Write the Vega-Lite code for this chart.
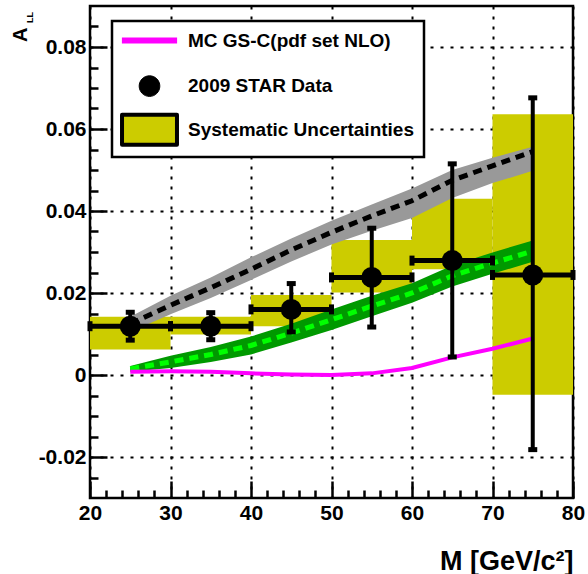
{
  "$schema": "https://vega.github.io/schema/vega-lite/v6.json",
  "width": 483,
  "height": 492,
  "autosize": {"type": "none"},
  "padding": {"left": 90, "top": 6, "right": 15, "bottom": 76},
  "background": "white",
  "config": {
    "view": {"stroke": "black", "strokeWidth": 2.5},
    "axis": {
      "domain": false,
      "gridColor": "black",
      "gridDash": [3, 7],
      "gridWidth": 2,
      "tickColor": "black",
      "tickWidth": 2.5,
      "labelFont": "Liberation Sans",
      "labelFontWeight": "bold",
      "labelColor": "black",
      "labelOverlap": false,
      "labelFlush": false,
      "titleFont": "Liberation Sans",
      "titleFontWeight": "bold",
      "titleColor": "black"
    }
  },
  "resolve": {"axis": {"x": "independent", "y": "independent"}},
  "datasets": {
    "bins": [
      {"m": 25, "mlo": 20, "mhi": 30, "a": 0.0119, "alo": 0.0085, "ahi": 0.0153, "slo": 0.0062, "shi": 0.0142},
      {"m": 35, "mlo": 30, "mhi": 40, "a": 0.0119, "alo": 0.0086, "ahi": 0.0152, "slo": 0.0099, "shi": 0.0142},
      {"m": 45, "mlo": 40, "mhi": 50, "a": 0.0160, "alo": 0.0105, "ahi": 0.0223, "slo": 0.0119, "shi": 0.0195},
      {"m": 55, "mlo": 50, "mhi": 60, "a": 0.0238, "alo": 0.0117, "ahi": 0.0358, "slo": 0.0201, "shi": 0.0329},
      {"m": 65, "mlo": 60, "mhi": 70, "a": 0.0279, "alo": 0.0044, "ahi": 0.0515, "slo": 0.0258, "shi": 0.0430},
      {"m": 75, "mlo": 70, "mhi": 80, "a": 0.0244, "alo": -0.0182, "ahi": 0.0676, "slo": -0.0048, "shi": 0.0636}
    ],
    "theory": [
      {"m": 25, "glo": 0.0105, "gmid": 0.0125, "ghi": 0.0142, "nlo": 0.0008, "nmid": 0.0015, "nhi": 0.0022, "mc": 0.0008},
      {"m": 30, "glo": 0.0148, "gmid": 0.0170, "ghi": 0.0193, "nlo": 0.0017, "nmid": 0.0032, "nhi": 0.0047, "mc": 0.0009},
      {"m": 35, "glo": 0.0188, "gmid": 0.0213, "ghi": 0.0238, "nlo": 0.0032, "nmid": 0.0050, "nhi": 0.0068, "mc": 0.0008},
      {"m": 40, "glo": 0.0232, "gmid": 0.0258, "ghi": 0.0287, "nlo": 0.0050, "nmid": 0.0072, "nhi": 0.0094, "mc": 0.0004},
      {"m": 45, "glo": 0.0277, "gmid": 0.0305, "ghi": 0.0333, "nlo": 0.0079, "nmid": 0.0102, "nhi": 0.0125, "mc": 0.0001},
      {"m": 50, "glo": 0.0318, "gmid": 0.0348, "ghi": 0.0376, "nlo": 0.0110, "nmid": 0.0135, "nhi": 0.0160, "mc": 0.0000},
      {"m": 55, "glo": 0.0352, "gmid": 0.0388, "ghi": 0.0416, "nlo": 0.0143, "nmid": 0.0168, "nhi": 0.0193, "mc": 0.0004},
      {"m": 60, "glo": 0.0383, "gmid": 0.0425, "ghi": 0.0455, "nlo": 0.0176, "nmid": 0.0200, "nhi": 0.0224, "mc": 0.0017},
      {"m": 65, "glo": 0.0432, "gmid": 0.0475, "ghi": 0.0500, "nlo": 0.0216, "nmid": 0.0242, "nhi": 0.0267, "mc": 0.0043},
      {"m": 70, "glo": 0.0468, "gmid": 0.0510, "ghi": 0.0530, "nlo": 0.0247, "nmid": 0.0273, "nhi": 0.0299, "mc": 0.0064},
      {"m": 75, "glo": 0.0498, "gmid": 0.0545, "ghi": 0.0557, "nlo": 0.0276, "nmid": 0.0302, "nhi": 0.0328, "mc": 0.0089}
    ],
    "ytitle": [{"t": "A", "s": "LL"}]
  },
  "layer": [
    {
      "data": {"name": "bins"},
      "mark": {"type": "rect"},
      "encoding": {
        "x": {
          "field": "mlo", "type": "quantitative",
          "scale": {"domain": [20, 80], "nice": false, "zero": false},
          "axis": {
            "orient": "bottom",
            "values": [20, 30, 40, 50, 60, 70, 80],
            "grid": true,
            "tickSize": -17,
            "labelPadding": 21,
            "labelFontSize": 21,
            "title": "M [GeV/c²]",
            "titleFontSize": 27,
            "titleAlign": "right",
            "titleAnchor": "end",
            "titleBaseline": "alphabetic",
            "titleX": 483,
            "titleY": 71
          }
        },
        "x2": {"field": "mhi"},
        "y": {
          "field": "slo", "type": "quantitative",
          "scale": {"domain": [-0.03, 0.09], "nice": false, "zero": false},
          "axis": {
            "orient": "left",
            "values": [-0.02, 0, 0.02, 0.04, 0.06, 0.08],
            "grid": true,
            "labelExpr": "datum.value === 0 ? '0' : (datum.value < 0 ? '-' : '') + format(abs(datum.value), '.2f')",
            "tickSize": -17,
            "labelPadding": 21,
            "labelFontSize": 21,
            "title": null
          }
        },
        "y2": {"field": "shi"},
        "fill": {
          "datum": "Systematic Uncertainties",
          "scale": {
            "domain": ["MC GS-C(pdf set NLO)", "2009 STAR Data", "Systematic Uncertainties"],
            "range": ["#ff00ff", "#000000", "#cccc00"]
          },
          "legend": {
            "orient": "none",
            "legendX": 22,
            "legendY": 15,
            "title": null,
            "fillColor": "white",
            "strokeColor": "black",
            "padding": 10,
            "symbolSize": 576,
            "rowPadding": 4.6,
            "symbolOffset": 18,
            "labelOffset": 29,
            "labelFont": "Liberation Sans",
            "labelFontSize": 19,
            "labelFontWeight": "bold",
            "labelColor": "black",
            "labelLimit": 0,
            "encode": {
              "legend": {"update": {"strokeWidth": {"value": 2.5}}},
              "symbols": {
                "update": {
                  "shape": {"signal": "datum.value === 'MC GS-C(pdf set NLO)' ? 'M0,-1.62M0,1.62M-2.3,-0.25H2.3V0.25H-2.3Z' : datum.value === '2009 STAR Data' ? 'M0,-1.73M0,1.73M-0.86,0A0.86,0.86 0 1,0 0.86,0A0.86,0.86 0 1,0 -0.86,0Z' : 'M-2.29,-1.25H2.29V1.25H-2.29Z'"},
                  "fill": {"signal": "datum.value === 'MC GS-C(pdf set NLO)' ? '#ff00ff' : datum.value === '2009 STAR Data' ? '#000000' : '#cccc00'"},
                  "stroke": {"signal": "datum.value === 'MC GS-C(pdf set NLO)' ? 'transparent' : '#000000'"},
                  "strokeWidth": {"signal": "datum.value === 'MC GS-C(pdf set NLO)' ? 0 : datum.value === '2009 STAR Data' ? 1 : 4"},
                  "strokeJoin": {"value": "round"},
                  "opacity": {"value": 1},
                  "fillOpacity": {"value": 1},
                  "strokeOpacity": {"value": 1}
                }
              }
            }
          }
        }
      }
    },
    {
      "data": {"name": "theory"},
      "mark": {"type": "area", "color": "#999999", "opacity": 1},
      "encoding": {
        "x": {
          "field": "m", "type": "quantitative",
          "axis": {
            "orient": "bottom",
            "values": [22,24,26,28,32,34,36,38,42,44,46,48,52,54,56,58,62,64,66,68,72,74,76,78],
            "grid": false,
            "labels": false,
            "tickSize": -8,
            "title": null
          }
        },
        "y": {
          "field": "glo", "type": "quantitative",
          "axis": {
            "orient": "left",
            "values": [-0.025,-0.015,-0.01,-0.005,0.005,0.01,0.015,0.025,0.03,0.035,0.045,0.05,0.055,0.065,0.07,0.075,0.085],
            "grid": false,
            "labels": false,
            "tickSize": -8,
            "title": null
          }
        },
        "y2": {"field": "ghi"}
      }
    },
    {
      "data": {"name": "theory"},
      "mark": {"type": "line", "color": "black", "strokeWidth": 5, "strokeDash": [9, 6]},
      "encoding": {
        "x": {"field": "m", "type": "quantitative", "axis": null},
        "y": {"field": "gmid", "type": "quantitative", "axis": null}
      }
    },
    {
      "data": {"name": "theory"},
      "mark": {"type": "area", "color": "#009900", "opacity": 1},
      "encoding": {
        "x": {"field": "m", "type": "quantitative", "axis": null},
        "y": {"field": "nlo", "type": "quantitative", "axis": null},
        "y2": {"field": "nhi"}
      }
    },
    {
      "data": {"name": "theory"},
      "mark": {"type": "line", "color": "#00ff00", "strokeWidth": 5, "strokeDash": [9, 6]},
      "encoding": {
        "x": {"field": "m", "type": "quantitative", "axis": null},
        "y": {"field": "nmid", "type": "quantitative", "axis": null}
      }
    },
    {
      "data": {"name": "theory"},
      "mark": {"type": "line", "color": "#ff00ff", "strokeWidth": 4},
      "encoding": {
        "x": {"field": "m", "type": "quantitative", "axis": null},
        "y": {"field": "mc", "type": "quantitative", "axis": null}
      }
    },
    {
      "data": {"name": "bins"},
      "mark": {"type": "rule", "color": "black", "strokeWidth": 5},
      "encoding": {
        "x": {"field": "mlo", "type": "quantitative", "axis": null},
        "x2": {"field": "mhi"},
        "y": {"field": "a", "type": "quantitative", "axis": null}
      }
    },
    {
      "data": {"name": "bins"},
      "mark": {"type": "rule", "color": "black", "strokeWidth": 4},
      "encoding": {
        "x": {"field": "m", "type": "quantitative", "axis": null},
        "y": {"field": "alo", "type": "quantitative", "axis": null},
        "y2": {"field": "ahi"}
      }
    },
    {
      "data": {"name": "bins"},
      "mark": {"type": "tick", "orient": "vertical", "color": "black", "thickness": 5, "size": 10, "opacity": 1},
      "encoding": {
        "x": {"field": "mlo", "type": "quantitative", "axis": null},
        "y": {"field": "a", "type": "quantitative", "axis": null}
      }
    },
    {
      "data": {"name": "bins"},
      "mark": {"type": "tick", "orient": "vertical", "color": "black", "thickness": 5, "size": 10, "opacity": 1},
      "encoding": {
        "x": {"field": "mhi", "type": "quantitative", "axis": null},
        "y": {"field": "a", "type": "quantitative", "axis": null}
      }
    },
    {
      "data": {"name": "bins"},
      "mark": {"type": "tick", "orient": "horizontal", "color": "black", "thickness": 5, "size": 9, "opacity": 1},
      "encoding": {
        "x": {"field": "m", "type": "quantitative", "axis": null},
        "y": {"field": "alo", "type": "quantitative", "axis": null}
      }
    },
    {
      "data": {"name": "bins"},
      "mark": {"type": "tick", "orient": "horizontal", "color": "black", "thickness": 5, "size": 9, "opacity": 1},
      "encoding": {
        "x": {"field": "m", "type": "quantitative", "axis": null},
        "y": {"field": "ahi", "type": "quantitative", "axis": null}
      }
    },
    {
      "data": {"name": "bins"},
      "mark": {"type": "circle", "size": 441, "opacity": 1},
      "encoding": {
        "x": {"field": "m", "type": "quantitative", "axis": null},
        "y": {"field": "a", "type": "quantitative", "axis": null},
        "fill": {"datum": "2009 STAR Data"}
      }
    },
    {
      "data": {"name": "ytitle"},
      "mark": {"type": "text", "angle": 270, "align": "left", "baseline": "alphabetic", "font": "Liberation Sans", "fontWeight": "bold", "fontSize": 20, "color": "black", "dx": -36, "dy": -63},
      "encoding": {
        "x": {"datum": 20, "axis": null},
        "y": {"datum": 0.09, "axis": null},
        "text": {"field": "t"}
      }
    },
    {
      "data": {"name": "ytitle"},
      "mark": {"type": "text", "angle": 270, "align": "left", "baseline": "alphabetic", "font": "Liberation Sans", "fontWeight": "bold", "fontSize": 9, "color": "black", "dx": -17, "dy": -57},
      "encoding": {
        "x": {"datum": 20, "axis": null},
        "y": {"datum": 0.09, "axis": null},
        "text": {"field": "s"}
      }
    }
  ]
}
